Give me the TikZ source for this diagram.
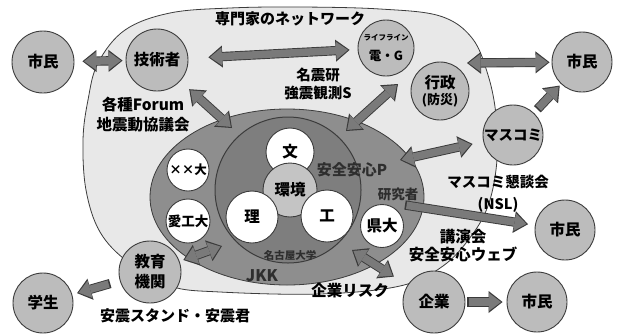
\documentclass[tikz,border=0pt]{standalone}
\usepackage{fontspec}
\setmainfont{Noto Sans CJK JP}[BoldFont={Noto Sans CJK JP Black}]
\usetikzlibrary{arrows.meta}
\definecolor{outerfill}{HTML}{E8E8E8}
\definecolor{darkfill}{HTML}{8E8E8E}
\definecolor{innerfill}{HTML}{7E7E7E}
\definecolor{graycirc}{HTML}{BCBCBC}
\definecolor{envfill}{HTML}{C4C4C4}
\definecolor{circline}{HTML}{3C3C3C}
\definecolor{arrowfill}{HTML}{7A7A7A}
\definecolor{arrowline}{HTML}{3A3A3A}
\definecolor{dimtext}{HTML}{2E2E2E}
\tikzset{
  ga/.store in=\gapA, gb/.store in=\gapB, ga=3pt, gb=3pt,
  dbl/.style={draw=arrowfill, line width=7.5pt,
    shorten <=\gapA+1.6pt, shorten >=\gapB+1.6pt,
    {Triangle[length=12pt,width=18pt,line width=0pt]}-{Triangle[length=12pt,width=18pt,line width=0pt]},
    preaction={draw=arrowline, line width=9.3pt, shorten <=\gapA, shorten >=\gapB,
    {Triangle[length=14pt,width=22pt,line width=0pt]}-{Triangle[length=14pt,width=22pt,line width=0pt]}}},
  sgl/.style={draw=arrowfill, line width=7.5pt,
    shorten <=\gapA+1.6pt, shorten >=\gapB+1.6pt,
    -{Triangle[length=12pt,width=18pt,line width=0pt]},
    preaction={draw=arrowline, line width=9.3pt, shorten <=\gapA, shorten >=\gapB,
    -{Triangle[length=14pt,width=22pt,line width=0pt]}}},
  gcirc/.style={circle, draw=circline, line width=0.9pt, fill=graycirc, minimum size=60pt,
    inner sep=0pt, align=center, font=\bfseries\fontsize{15.5}{19}\selectfont},
  wcirc/.style={circle, draw=circline, line width=0.9pt, fill=white, minimum size=50pt,
    inner sep=0pt, align=center, font=\bfseries\fontsize{15.5}{18}\selectfont},
  lbl/.style={inner sep=0pt, align=center, font=\bfseries\fontsize{15}{18}\selectfont},
  dimlbl/.style={lbl, text=dimtext},
}
\begin{document}
\begin{tikzpicture}[x=1pt,y=-1pt]
\useasboundingbox (0,0) rectangle (620,333);
\fill[white] (0,0) rectangle (620,333);
% outer network region
\draw[circline, line width=0.8pt, fill=outerfill] plot[smooth cycle, tension=0.6] coordinates {
 (300,7) (380,9) (440,16) (472,38) (488,75) (496,115) (497,160) (489,203) (472,235)
 (443,266) (400,286) (320,294) (220,292) (170,286) (128,262) (100,232) (86,190)
 (83,140) (88,100) (98,63) (125,30) (170,13) (230,8)};
% researcher region
\draw[circline, line width=0.8pt, fill=darkfill] (287,197) ellipse [x radius=137, y radius=88];
% Nagoya University
\draw[circline, line width=1pt, fill=innerfill] (288,190) circle [radius=73];

% inner circles
\node[wcirc, minimum size=48pt] (bun) at (290,152) {文};
\node[wcirc, fill=envfill, minimum size=54pt] (kankyo) at (290,190) {環境};
\node[wcirc, minimum size=52pt] (ri) at (252,217) {理};
\node[wcirc, minimum size=52pt] (ko) at (327,216) {工};
\node[wcirc, minimum size=43pt, font=\bfseries\fontsize{15.5}{18}\selectfont] (kendai) at (382,226) {県大};
\node[wcirc, minimum size=42pt, font=\bfseries\fontsize{12.5}{14}\selectfont] (xxdai) at (188,170) {××大};
\node[wcirc, minimum size=44pt, font=\bfseries\fontsize{13.5}{14}\selectfont] (aikodai) at (188,221) {愛工大};

% outer gray circles
\node[gcirc, minimum size=62pt] (shimin1) at (43,62) {市民};
\node[gcirc, minimum size=62pt] (gijutsu) at (157,60) {技術者};
\node[gcirc, minimum size=56pt] (life) at (386,48) {{\fontsize{7.5}{9}\selectfont ライフライン}\\[1pt]{\fontsize{12.5}{14}\selectfont 電・G}};
\node[gcirc, minimum size=58pt] (gyosei) at (440,91) {行政\\[-3pt]{\fontsize{13}{15}\selectfont (防災)}};
\node[gcirc, minimum size=60pt, font=\bfseries\fontsize{14.5}{16}\selectfont] (masukomi) at (513,135) {マスコミ};
\node[gcirc] (shimin2) at (582,62) {市民};
\node[gcirc] (shimin3) at (565,230) {市民};
\node[gcirc, minimum size=62pt] (kigyo) at (434,302) {企業};
\node[gcirc] (shimin4) at (537,302) {市民};
\node[gcirc, minimum size=62pt, font=\bfseries\fontsize{15.5}{20}\selectfont] (kyoiku) at (150,272) {教育\\機関};
\node[gcirc] (gakusei) at (43,303) {学生};

% free ends of connectors
\coordinate (dkA) at (232,128);
\coordinate (dkB) at (346,131);
\coordinate (netB) at (398,84);
\coordinate (dkC) at (400,160);
\coordinate (kenkyu) at (405,205);
\coordinate (netR) at (467,63);
\coordinate (dkD) at (352,250);
\coordinate (dkE) at (222,246);

% connectors
\draw[ga=8pt, gb=3pt, dbl] (shimin1) -- (gijutsu);
\draw[ga=20pt, gb=8pt, dbl] (gijutsu) -- (life);
\draw[ga=12pt, gb=0pt, dbl] (gijutsu) -- (dkA);
\draw[ga=0pt, gb=0pt, dbl] (dkB) -- (netB);
\draw[ga=0pt, gb=11pt, dbl] (dkC) -- (masukomi);
\draw[ga=0pt, gb=7pt, sgl] (kenkyu) -- (shimin3);
\draw[ga=5pt, gb=2pt, sgl] (masukomi) -- (shimin2);
\draw[ga=0pt, gb=2pt, dbl] (netR) -- (shimin2);
\draw[ga=0pt, gb=16pt, dbl] (dkD) -- (kigyo);
\draw[ga=2pt, gb=4pt, sgl] (kigyo) -- (shimin4);
\draw[ga=4pt, gb=0pt, dbl] (kyoiku) -- (dkE);
\draw[ga=10pt, gb=5pt, sgl] (kyoiku) -- (gakusei);

% labels
\node[lbl] (netlbl) at (290,19) {専門家のネットワーク};
\node[lbl, font=\bfseries\fontsize{14.5}{18}\selectfont] (meishin) at (318,84) {名震研\\強震観測S};
\node[lbl, font=\bfseries\fontsize{15.5}{20}\selectfont] (forum) at (143,115) {各種Forum\\地震動協議会};
\node[dimlbl, font=\bfseries\fontsize{15}{18}\selectfont] (anzenP) at (352,170) {安全安心P};
\node[dimlbl, font=\bfseries\fontsize{13.5}{16}\selectfont] (kenkyusha) at (398,194) {研究者};
\node[dimlbl, font=\bfseries\fontsize{10.5}{12}\selectfont] (meidai) at (290,255) {名古屋大学};
\node[dimlbl, font=\bfseries\fontsize{16}{18}\selectfont] (jkk) at (262,276) {JKK};
\node[lbl, font=\bfseries\fontsize{14.5}{22}\selectfont] (konda) at (498,194) {マスコミ懇談会\\(NSL)};
\node[lbl, font=\bfseries\fontsize{15.5}{18}\selectfont] (koen) at (463,246) {講演会\\安全安心ウェブ};
\node[lbl, font=\bfseries\fontsize{15.5}{18}\selectfont] (risk) at (350,291) {企業リスク};
\node[lbl] (anshin) at (175,316) {安震スタンド・安震君};
\end{tikzpicture}
\end{document}
